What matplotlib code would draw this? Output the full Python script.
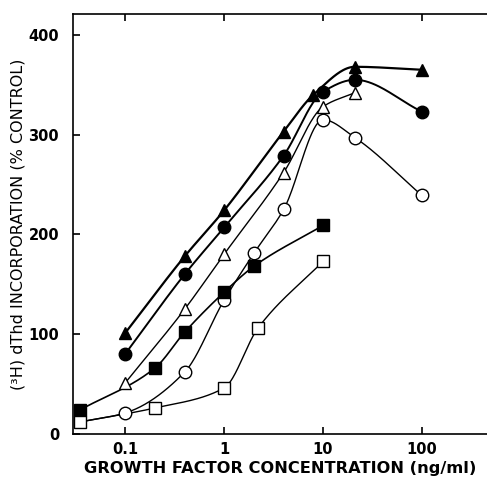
import numpy as np
import matplotlib
matplotlib.use("Agg")
import matplotlib.pyplot as plt

# values (x in ng/ml, y in % control)
x_tri_f = [0.1, 0.4, 1, 4, 8, 21, 100]
y_tri_f = [101, 178, 224, 303, 340, 368, 365]

x_circ_f = [0.1, 0.4, 1, 4, 10, 21, 100]
y_circ_f = [80, 160, 207, 279, 343, 355, 323]

x_tri_o = [0.1, 0.4, 1, 4, 10, 21]
y_tri_o = [51, 125, 180, 262, 328, 342]

x_circ_o = [0.035, 0.1, 0.4, 1, 2, 4, 10, 21, 100]
y_circ_o = [12, 21, 62, 134, 181, 225, 315, 297, 239]

x_sq_f = [0.035, 0.2, 0.4, 1, 2, 10]
y_sq_f = [24, 66, 102, 142, 168, 209]

x_sq_o = [0.035, 0.2, 1, 2.2, 10]
y_sq_o = [12, 26, 46, 106, 173]


def smooth(xs, ys, n=40):
    # monotone cubic (fritsch-carlson) through the points, log x
    x = np.log10(xs)
    y = np.asarray(ys, float)
    h = np.diff(x)
    d = np.diff(y) / h
    m = np.zeros_like(y)
    m[0], m[-1] = d[0], d[-1]
    for i in range(1, len(y) - 1):
        if d[i - 1] * d[i] <= 0:
            m[i] = 0
        else:
            w1 = 2 * h[i] + h[i - 1]
            w2 = h[i] + 2 * h[i - 1]
            m[i] = (w1 + w2) / (w1 / d[i - 1] + w2 / d[i])
    px, py = [], []
    for i in range(len(h)):
        t = np.linspace(0, 1, n)
        h00 = 2 * t ** 3 - 3 * t ** 2 + 1
        h10 = t ** 3 - 2 * t ** 2 + t
        h01 = -2 * t ** 3 + 3 * t ** 2
        h11 = t ** 3 - t ** 2
        px.append(x[i] + t * h[i])
        py.append(h00 * y[i] + h10 * h[i] * m[i] + h01 * y[i + 1] + h11 * h[i] * m[i + 1])
    return 10 ** np.concatenate(px), np.concatenate(py)


fig = plt.figure(figsize=(4.87, 4.80), dpi=100)
ax = fig.add_axes([0.150, 0.096, 0.85, 0.875])

series = [
    (x_tri_f, y_tri_f, "^", "black", 1.6, 0),
    (x_circ_f, y_circ_f, "o", "black", 1.4, 0),
    (x_tri_o, y_tri_o, "^", "white", 1.0, 0),
    (x_circ_o, y_circ_o, "o", "white", 1.0, 1),
    (x_sq_f, y_sq_f, "s", "black", 1.2, 0),
    (x_sq_o, y_sq_o, "s", "white", 1.0, 0),
]

for xs, ys, m, fc, lw, skip in series:
    sx, sy = smooth(xs, ys)
    ax.plot(sx, sy, color="black", lw=lw, zorder=2)
    ax.plot(xs[skip:], ys[skip:], ls="none", marker=m, ms=9 if m != "s" else 8,
            mfc=fc, mec="black", mew=1.0, zorder=3)

ax.set_xscale("log")
ax.set_xlim(0.0298, 454)
ax.set_ylim(0, 421)

ax.set_xticks([0.1, 1, 10, 100])
ax.set_xticklabels(["0.1", "1", "10", "100"])
ax.xaxis.set_minor_locator(matplotlib.ticker.NullLocator())
ax.set_yticks([0, 100, 200, 300, 400])

ax.spines["right"].set_visible(False)
for s in ["left", "top", "bottom"]:
    ax.spines[s].set_linewidth(1.2)

ax.tick_params(axis="x", direction="in", top=True, length=5, width=1.2, pad=6,
               labelsize=10.5)
ax.tick_params(axis="y", direction="in", length=5, width=1.2, pad=10, labelsize=10.5)
for lab in ax.get_xticklabels() + ax.get_yticklabels():
    lab.set_fontweight("bold")

ax.set_xlabel("GROWTH FACTOR CONCENTRATION (ng/ml)", fontsize=11.7, fontweight="bold",
              labelpad=3)
ax.set_ylabel("(³H) dThd INCORPORATION (% CONTROL)", fontsize=11.5, labelpad=2)

fig.savefig("out.png", dpi=100)
